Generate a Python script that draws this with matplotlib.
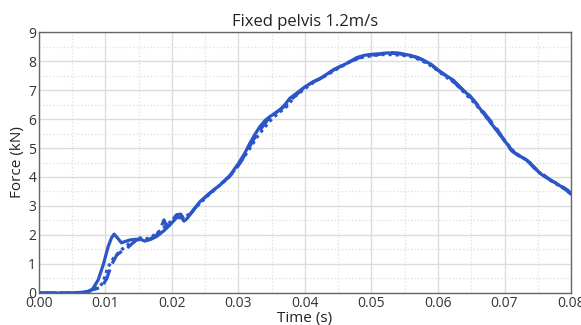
import matplotlib.pyplot as plt

plt.rcParams['font.family'] = ['Open Sans', 'DejaVu Sans']

# solid trace
t_solid = [0, 0.005, 0.0062, 0.0075, 0.0081, 0.0089, 0.0097, 0.0104, 0.0109, 0.0113, 0.0118,
           0.0124, 0.013, 0.0137, 0.0145, 0.0152, 0.0159, 0.0168, 0.0177, 0.0188, 0.0197,
           0.0207, 0.0214, 0.0218, 0.0222, 0.0232, 0.0242, 0.0257, 0.0272, 0.0287, 0.03,
           0.0309, 0.0317, 0.0325, 0.0332, 0.034, 0.0347, 0.0355, 0.0362, 0.037, 0.0377,
           0.0388, 0.04, 0.0412, 0.0423, 0.0443, 0.0463, 0.0478, 0.049, 0.05, 0.0512, 0.0525,
           0.054, 0.0558, 0.0568, 0.0578, 0.059, 0.06, 0.0612, 0.0623, 0.0638, 0.0653, 0.0665,
           0.0678, 0.069, 0.0701, 0.0713, 0.0723, 0.0733, 0.0743, 0.0753, 0.0765, 0.0778,
           0.079, 0.08]
f_solid = [0, 0, 0.02, 0.05, 0.15, 0.45, 1.0, 1.6, 1.9, 2.03, 1.9,
           1.73, 1.78, 1.83, 1.85, 1.86, 1.79, 1.85, 1.95, 2.15, 2.35,
           2.6, 2.6, 2.48, 2.55, 2.85, 3.15, 3.45, 3.72, 4.05, 4.47,
           4.8, 5.16, 5.48, 5.73, 5.95, 6.08, 6.2, 6.31, 6.5, 6.71,
           6.9, 7.11, 7.28, 7.4, 7.7, 7.92, 8.12, 8.2, 8.23, 8.25, 8.28,
           8.25, 8.2, 8.12, 8.03, 7.88, 7.69, 7.5, 7.34, 7.0, 6.66, 6.3,
           5.91, 5.55, 5.22, 4.87, 4.72, 4.59, 4.38, 4.13, 3.95, 3.78,
           3.6, 3.41]

# dashed trace
t_dash = [0, 0.0065, 0.0079, 0.0094, 0.0102, 0.0109, 0.0117, 0.0125, 0.0132, 0.014, 0.0147,
          0.0155, 0.0162, 0.017, 0.0177, 0.0184, 0.0188, 0.0192, 0.02, 0.0207, 0.0213, 0.0218,
          0.0225, 0.0237, 0.025, 0.0265, 0.028, 0.0292, 0.0303, 0.0313, 0.0323, 0.0335,
          0.0345, 0.0358, 0.037, 0.0383, 0.0397, 0.041, 0.0425, 0.0445, 0.0465, 0.048, 0.0495,
          0.051, 0.0525, 0.0542, 0.0556, 0.057, 0.058, 0.0593, 0.0605, 0.0618, 0.0632, 0.0648,
          0.0662, 0.0675, 0.0688, 0.07, 0.071, 0.072, 0.0732, 0.0745, 0.0757, 0.077, 0.0783,
          0.0795, 0.08]
f_dash = [0, 0, 0.1, 0.2, 0.5, 0.97, 1.31, 1.45, 1.54, 1.7, 1.83,
          1.85, 1.82, 1.9, 2.0, 2.3, 2.52, 2.3, 2.5, 2.7, 2.72, 2.55,
          2.65, 3.0, 3.3, 3.6, 3.88, 4.15, 4.5, 4.9, 5.3, 5.7,
          6.0, 6.25, 6.45, 6.75, 7.05, 7.25, 7.42, 7.72, 7.95, 8.1, 8.2,
          8.22, 8.3, 8.27, 8.2, 8.12, 8.0, 7.8, 7.6, 7.4, 7.1, 6.8,
          6.42, 6.05, 5.68, 5.25, 4.92, 4.75, 4.62, 4.3, 4.1, 3.88, 3.72,
          3.55, 3.43]

# dotted trace
t_dot = [0, 0.0068, 0.008, 0.009, 0.0096, 0.0104, 0.0112, 0.0122, 0.013, 0.0137, 0.0145,
         0.0152, 0.016, 0.017, 0.018, 0.019, 0.02, 0.021, 0.0218, 0.0228, 0.024, 0.0255,
         0.027, 0.0285, 0.0298, 0.0308, 0.0318, 0.0328, 0.0338, 0.035, 0.036, 0.0372, 0.0385,
         0.04, 0.0415, 0.043, 0.045, 0.047, 0.0485, 0.05, 0.0515, 0.053, 0.0545, 0.056, 0.0572,
         0.0585, 0.0598, 0.061, 0.0625, 0.064, 0.0655, 0.0668, 0.068, 0.0692, 0.0703, 0.0715,
         0.0727, 0.0738, 0.075, 0.0762, 0.0775, 0.0788, 0.08]
f_dot = [0, 0, 0.1, 0.2, 0.35, 0.9, 1.2, 1.45, 1.6, 1.73, 1.85,
         1.9, 1.85, 1.95, 2.1, 2.3, 2.5, 2.65, 2.6, 2.75, 3.05, 3.38,
         3.68, 3.98, 4.35, 4.68, 5.02, 5.38, 5.68, 6.0, 6.2, 6.42, 6.78,
         7.05, 7.3, 7.48, 7.75, 8.0, 8.12, 8.18, 8.22, 8.22, 8.2, 8.15, 8.05,
         7.9, 7.7, 7.48, 7.25, 6.9, 6.55, 6.2, 5.85, 5.5, 5.18, 4.85,
         4.68, 4.5, 4.2, 4.0, 3.8, 3.62, 3.42]

blue = '#2b56c8'

fig = plt.figure(figsize=(5.81, 3.25), dpi=100)
ax = fig.add_axes([0.0671, 0.0985, 0.9157, 0.803])

ax.plot(t_solid, f_solid, color=blue, lw=2.3, ls='-')
ax.plot(t_dash, f_dash, color=blue, lw=2.3, ls=(0, (5, 2)))
ax.plot(t_dot, f_dot, color=blue, lw=2.3, ls=(0, (1, 1.2)))

ax.set_xlim(0, 0.08)
ax.set_ylim(0, 9)
ax.set_xticks([i * 0.01 for i in range(9)])
ax.set_xticklabels(['%.2f' % (i * 0.01) for i in range(9)])
ax.set_yticks(range(10))
ax.set_xticks([0.005 + i * 0.01 for i in range(8)], minor=True)
ax.set_yticks([0.5 + i for i in range(9)], minor=True)
ax.grid(which='major', color='#dcdcdc', lw=1)
ax.grid(which='minor', color='#e2e2e2', lw=1, ls=(0, (1, 1.5)))
ax.set_axisbelow(True)
ax.tick_params(which='both', length=0, labelsize=10, colors='#333333', pad=2)
for s in ax.spines.values():
    s.set_color('#666666')
    s.set_linewidth(1)

ax.set_xlabel('Time (s)', fontsize=11, labelpad=0, color='#222222')
ax.set_ylabel('Force (kN)', fontsize=11, labelpad=2, color='#222222')
ax.set_title('Fixed pelvis 1.2m/s', fontsize=12, pad=4, color='#222222')

plt.savefig('out.png', dpi=100)
